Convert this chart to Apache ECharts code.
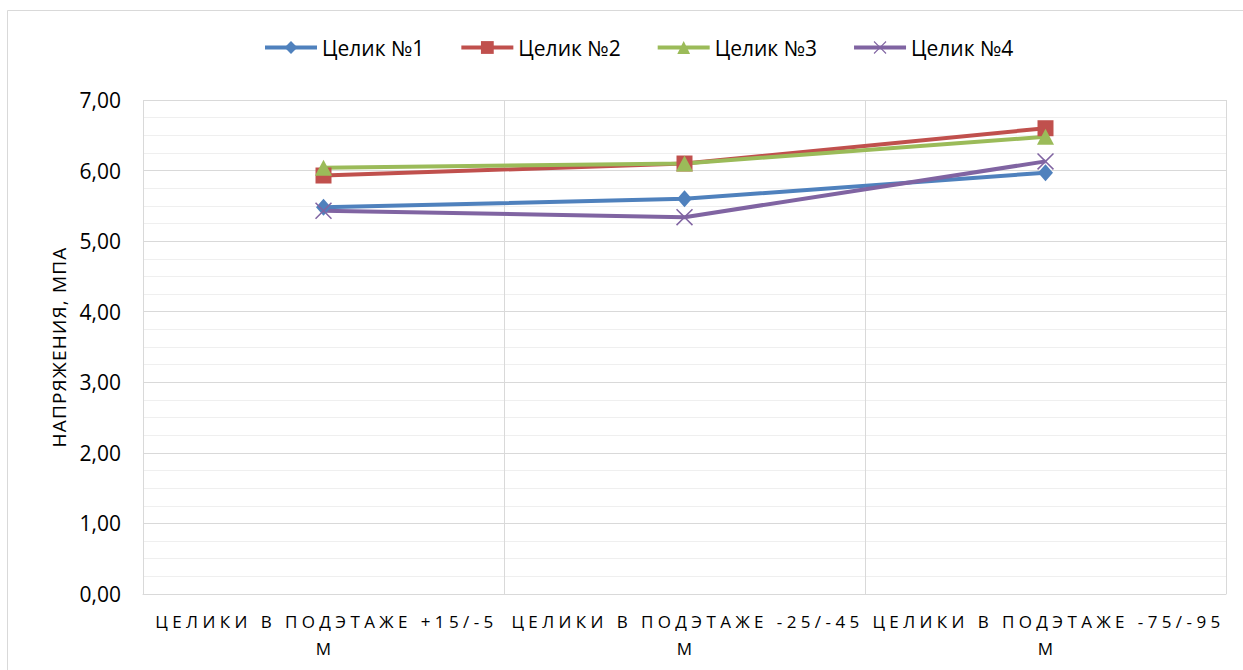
<!DOCTYPE html>
<html>
<head>
<meta charset="utf-8">
<script src="https://cdn.jsdelivr.net/npm/echarts@6/dist/echarts.min.js"></script>
<style>
  html, body { margin: 0; padding: 0; background: #fff; }
  #chart { width: 1243px; height: 670px; }
</style>
</head>
<body>
<div id="chart"></div>
<script>
// Categories (sub-level pillars) and stress values, MPa
const categories = [
  'ЦЕЛИКИ В ПОДЭТАЖЕ +15/-5 М',
  'ЦЕЛИКИ В ПОДЭТАЖЕ -25/-45 М',
  'ЦЕЛИКИ В ПОДЭТАЖЕ -75/-95 М'
];
const seriesNames = ['Целик №1', 'Целик №2', 'Целик №3', 'Целик №4'];
const pillar1 = [5.48, 5.60, 5.97];
const pillar2 = [5.93, 6.10, 6.60];
const pillar3 = [6.04, 6.10, 6.48];
const pillar4 = [5.43, 5.34, 6.13];
const yAxisName = 'НАПРЯЖЕНИЯ, МПА';

const FONT = '"Open Sans", "Noto Sans", sans-serif';
const colors = ['#4F81BD', '#C0504D', '#9BBB59', '#8064A2'];
const crossPath = 'path://M0,1L1,0L8,7L15,0L16,1L9,8L16,15L15,16L8,9L1,16L0,15L7,8Z';
const symbols = ['diamond', 'rect', 'triangle', crossPath];
const symbolSizes = [[15, 17], 16, [17, 16], 17];
const values = [pillar1, pillar2, pillar3, pillar4];

const chart = echarts.init(document.getElementById('chart'), null, { renderer: 'svg' });

chart.setOption({
  animation: false,
  backgroundColor: '#fff',
  color: colors,
  graphic: [{
    type: 'rect',
    silent: true,
    shape: { x: 7.5, y: 10.5, width: 1300, height: 700 },
    style: { fill: 'none', stroke: '#D9D9D9', lineWidth: 1 }
  }],
  legend: {
    left: 258,
    top: 32,
    itemWidth: 52,
    itemHeight: 16,
    itemGap: 35,
    lineStyle: { width: 4 },
    textStyle: { fontFamily: FONT, fontSize: 21, color: '#000' },
    data: seriesNames
  },
  grid: { left: 143, right: 17, top: 100, bottom: 76 },
  xAxis: {
    type: 'category',
    data: categories,
    boundaryGap: true,
    axisLine: { show: true, lineStyle: { color: '#D9D9D9', width: 1 } },
    axisTick: { show: false },
    splitLine: { show: true, interval: 0, lineStyle: { color: '#D9D9D9', width: 1 } },
    axisLabel: {
      interval: 0,
      margin: 14,
      fontFamily: FONT,
      fontSize: 17,
      lineHeight: 27,
      color: '#000',
      formatter: function (v) {
        const i = v.lastIndexOf(' ');
        return v.slice(0, i) + '\n' + v.slice(i + 1);
      }
    }
  },
  yAxis: {
    type: 'value',
    min: 0,
    max: 7,
    interval: 1,
    name: yAxisName,
    nameLocation: 'middle',
    nameGap: 72,
    nameTextStyle: { fontFamily: FONT, fontSize: 19, color: '#000' },
    axisLine: { show: false },
    axisTick: { show: false },
    axisLabel: {
      margin: 22,
      fontFamily: FONT,
      fontSize: 21,
      color: '#000',
      formatter: function (v) { return v.toFixed(2).replace('.', ','); }
    },
    splitLine: { show: true, lineStyle: { color: '#D9D9D9', width: 1 } },
    minorTick: { show: false, splitNumber: 4 },
    minorSplitLine: { show: true, lineStyle: { color: '#EFEFEF', width: 1 } }
  },
  series: seriesNames.map(function (name, i) {
    return {
      name: name,
      type: 'line',
      data: values[i],
      symbol: symbols[i],
      symbolSize: symbolSizes[i],
      showAllSymbol: true,
      lineStyle: { width: 4, color: colors[i] },
      itemStyle: { color: colors[i] },
      emphasis: { disabled: true }
    };
  })
});

// Widen the tracking of the category and axis-name captions
function spaceCaptions() {
  const texts = document.querySelectorAll('#chart svg text');
  texts.forEach(function (t) {
    const s = t.textContent;
    if (s.indexOf('ЦЕЛИКИ') === 0) {
      t.style.letterSpacing = '4.4px';
      t.setAttribute('dx', '3');
    } else if (s === 'М') {
      t.style.letterSpacing = '0px';
      t.setAttribute('dx', '0');
    } else if (s === yAxisName) {
      t.style.letterSpacing = '1.2px';
    }
  });
}
spaceCaptions();
chart.on('finished', spaceCaptions);
setTimeout(spaceCaptions, 50);
</script>
</body>
</html>
